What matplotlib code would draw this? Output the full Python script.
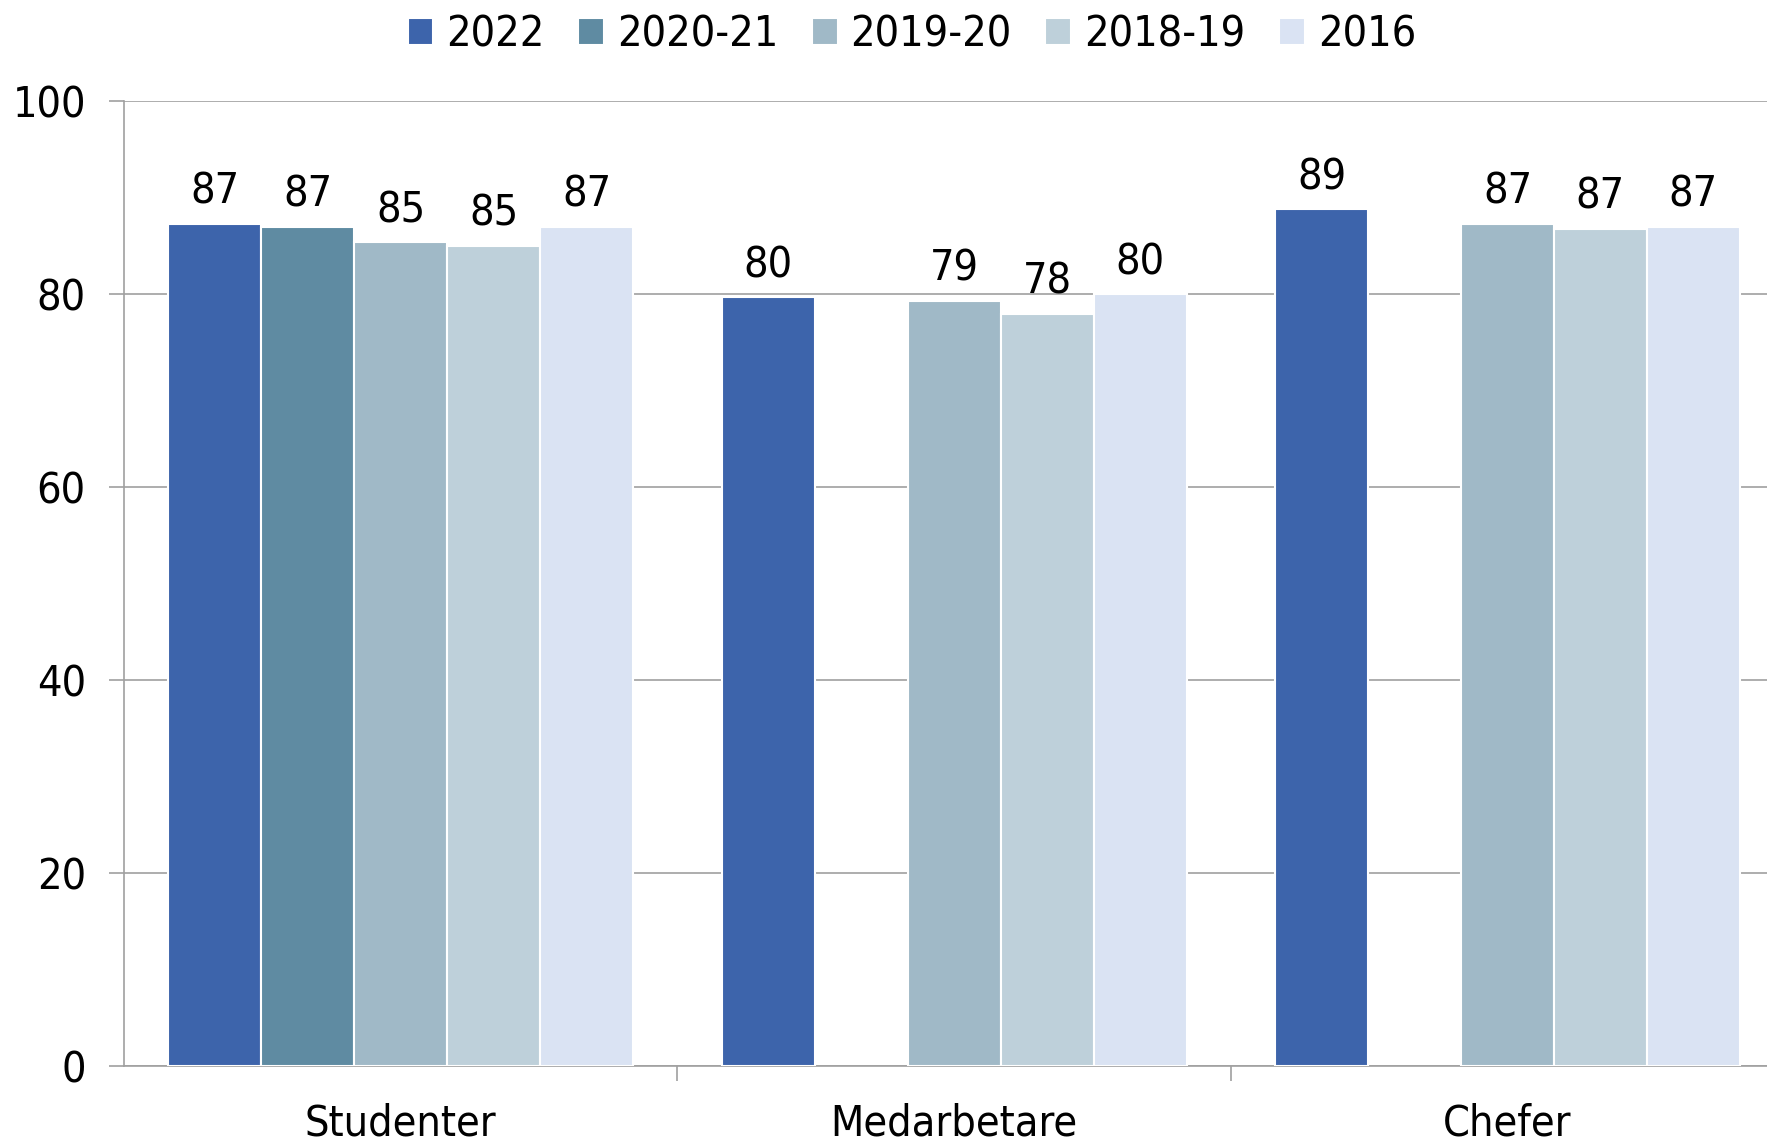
import matplotlib
matplotlib.use('Agg')
import matplotlib.pyplot as plt
import numpy as np

plt.rcParams['font.family'] = ['DejaVu Sans']
plt.rcParams['font.stretch'] = 'condensed'

groups = ['Studenter', 'Medarbetare', 'Chefer']
series = ['2022', '2020-21', '2019-20', '2018-19', '2016']
colors = ['#3d64ab', '#5f8ba2', '#a0b9c7', '#bed0da', '#dae3f3']
# nan = no data for that year
v2022 = [87.3, 79.7, 88.8]
v2021 = [87.0, np.nan, np.nan]
v2020 = [85.4, 79.3, 87.3]
v2019 = [85.0, 78.0, 86.8]
v2016 = [87.0, 80.0, 87.0]
values = [v2022, v2021, v2020, v2019, v2016]

fs = 31

fig = plt.figure(figsize=(17.67, 11.44), dpi=100)
ax = fig.add_axes([0.0702, 0.068, 0.9395, 0.8435])

x = np.arange(len(groups))
w = 0.168
for i, (name, vals, c) in enumerate(zip(series, values, colors)):
    pos = x + (i - 2) * w
    ax.bar(pos, vals, w, color=c, edgecolor='white', linewidth=1.5, label=name, zorder=3)
    for p, v in zip(pos, vals):
        if not np.isnan(v):
            ax.annotate('%d' % round(v), (p, v), xytext=(0, 8), textcoords='offset points',
                        ha='center', va='bottom', fontsize=fs)

ax.set_xlim(-0.5, 2.5)
ax.set_ylim(0, 100)
ax.set_yticks(range(0, 101, 20))
ax.yaxis.grid(True, color='#a0a0a0', linewidth=1.2, zorder=0)
ax.set_xticks([0.5, 1.5], minor=False)
ax.set_xticklabels([])
ax.set_xticks(x, minor=True)
ax.set_xticklabels(groups, minor=True, fontsize=fs)
ax.tick_params(axis='x', which='minor', length=0, pad=26)
ax.tick_params(axis='x', which='major', length=11, color='#a0a0a0', width=1.2)
ax.tick_params(axis='y', length=10.5, color='#a0a0a0', width=1.2, labelsize=fs, pad=17)
for s in ['top', 'right']:
    ax.spines[s].set_visible(False)
for s in ['left', 'bottom']:
    ax.spines[s].set_color('#a0a0a0')
    ax.spines[s].set_linewidth(1.2)

fig.legend(loc='upper center', bbox_to_anchor=(0.516, 1.022), ncol=5, frameon=False,
           fontsize=fs, handlelength=0.6, handleheight=0.6, handletextpad=0.3, columnspacing=0.78)

plt.savefig('out.png', dpi=100)
